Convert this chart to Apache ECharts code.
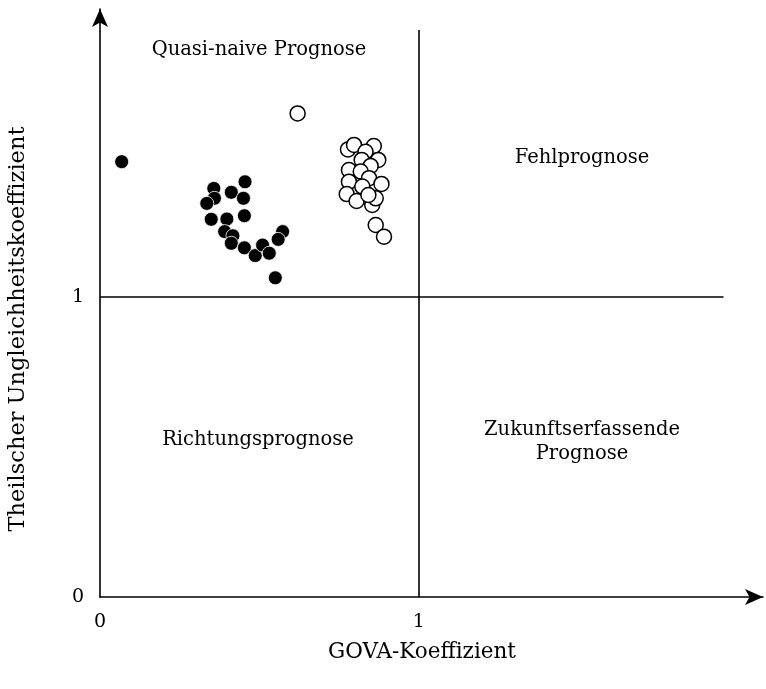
<!DOCTYPE html>
<html><head><meta charset="utf-8">
<script src="https://cdn.jsdelivr.net/npm/echarts@6/dist/echarts.min.js"></script>
<style>html,body{margin:0;padding:0;background:#fff}#c{width:766px;height:689px}</style>
</head><body><div id="c"></div>
<script>
// Filled dots [GOVA, Theil]
const filledPoints = [
  [0.068,1.451],[0.357,1.362],[0.359,1.329],[0.335,1.312],[0.412,1.349],
  [0.455,1.384],[0.450,1.329],[0.349,1.259],[0.398,1.260],[0.453,1.271],
  [0.391,1.218],[0.417,1.204],[0.412,1.179],[0.453,1.164],[0.487,1.138],
  [0.510,1.173],[0.531,1.146],[0.573,1.218],[0.559,1.192],[0.550,1.064]
];
// Open circles [GOVA, Theil]
const openPoints = [
  [0.620,1.612],[0.778,1.492],[0.797,1.507],[0.859,1.503],[0.833,1.484],
  [0.873,1.457],[0.821,1.457],[0.849,1.437],[0.781,1.423],[0.818,1.418],
  [0.844,1.396],[0.781,1.384],[0.823,1.368],[0.883,1.377],[0.774,1.343],
  [0.805,1.320],[0.854,1.307],[0.865,1.329],[0.842,1.340],[0.865,1.240],
  [0.891,1.201]
];
const xTickLabels = ['0','1'];
const yTickLabels = ['0','1'];
const quadrantLabels = ['Quasi-naive Prognose','Fehlprognose','Richtungsprognose','Zukunftserfassende\nPrognose'];
const xTitle = 'GOVA-Koeffizient';
const yTitle = 'Theilscher Ungleichheitskoeffizient';

const FONT = 'DejaVu Serif';
const chart = echarts.init(document.getElementById('c'));
const gridLeft = 100, gridBottom = 92, gridWidth = 666, gridTop = 9;
const xMax = 2.08, yMax = 1.96;
const qFont = '19.5px "DejaVu Serif"';
chart.setOption({
  animation:false,
  backgroundColor:'#fff',
  grid:{left:gridLeft, bottom:gridBottom, width:gridWidth, top:gridTop},
  xAxis:{type:'value',min:0,max:xMax,interval:1,
    axisLine:{show:true,lineStyle:{color:'#000',width:1.6},symbol:['none','arrow'],symbolSize:[12,18],symbolOffset:[0,0]},
    axisTick:{show:false},splitLine:{show:false},
    axisLabel:{color:'#000',fontFamily:FONT,fontSize:19,margin:16,
      formatter:v=>{const i=Math.round(v);return (Math.abs(v-i)<1e-6 && i<xTickLabels.length)?xTickLabels[i]:'';}}
  },
  yAxis:{type:'value',min:0,max:yMax,interval:1,
    axisLine:{show:true,lineStyle:{color:'#000',width:1.6},symbol:['none','arrow'],symbolSize:[12,18],symbolOffset:[0,0]},
    axisTick:{show:false},splitLine:{show:false},
    axisLabel:{color:'#000',fontFamily:FONT,fontSize:19,margin:16,
      formatter:v=>{const i=Math.round(v);return (Math.abs(v-i)<1e-6 && i<yTickLabels.length)?yTickLabels[i]:'';}}
  },
  graphic:[
    {type:'text',x:422,y:652,style:{text:xTitle,font:'21.5px "DejaVu Serif"',fill:'#000',textAlign:'center',textVerticalAlign:'middle'}},
    {type:'text',rotation:Math.PI/2,x:18,y:329,style:{text:yTitle,font:'22.5px "DejaVu Serif"',fill:'#000',textAlign:'center',textVerticalAlign:'middle'}},
    {type:'text',x:259,y:50,style:{text:quadrantLabels[0],font:qFont,fill:'#000',textAlign:'center',textVerticalAlign:'middle'}},
    {type:'text',x:582,y:158,style:{text:quadrantLabels[1],font:qFont,fill:'#000',textAlign:'center',textVerticalAlign:'middle'}},
    {type:'text',x:258,y:440,style:{text:quadrantLabels[2],font:qFont,fill:'#000',textAlign:'center',textVerticalAlign:'middle'}},
    {type:'text',x:582,y:442,style:{text:quadrantLabels[3],font:qFont,fill:'#000',textAlign:'center',textVerticalAlign:'middle',lineHeight:24}}
  ],
  series:[
    {type:'scatter',data:filledPoints,symbol:'circle',symbolSize:14,
      itemStyle:{color:'#000',borderColor:'#fff',borderWidth:0.8,opacity:1},z:3,
      markLine:{silent:true,symbol:'none',label:{show:false},
        lineStyle:{color:'#000',width:1.6,type:'solid'},
        data:[
          [{coord:[1,0]},{coord:[1,1.89]}],
          [{coord:[0,1]},{coord:[1.956,1]}]
        ]}
    },
    {type:'scatter',data:openPoints,symbol:'circle',symbolSize:15,
      itemStyle:{color:'#fff',borderColor:'#000',borderWidth:1.5,opacity:1},z:4}
  ]
});
</script></body></html>
